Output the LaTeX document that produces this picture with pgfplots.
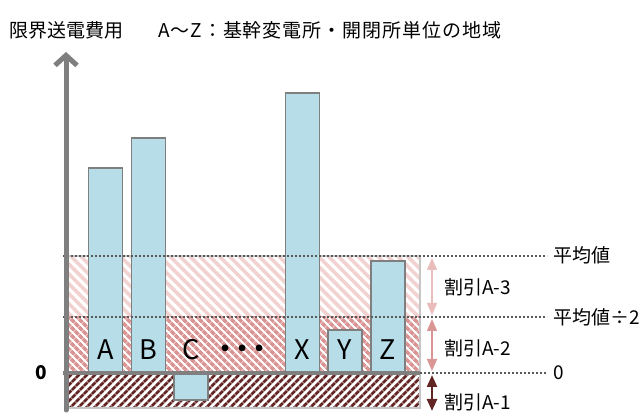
\documentclass[border=0pt]{standalone}
\usepackage{pgfplots}
\pgfplotsset{compat=1.18}
\usepackage{fontspec}
\setmainfont{Noto Sans CJK JP}
\usetikzlibrary{patterns.meta,arrows.meta}

\definecolor{barfill}{HTML}{B7DEE8}
\definecolor{bargray}{HTML}{7F7F7F}
\definecolor{pinkL}{HTML}{F2D2D1}
\definecolor{pinkM}{HTML}{D99694}
\definecolor{maroon}{HTML}{632523}
\definecolor{arrL}{HTML}{E8BDBC}
\definecolor{dotgray}{HTML}{595959}

\begin{document}
\begin{tikzpicture}
\begin{axis}[
    width=641bp, height=413bp, scale only axis,
    xmin=0, xmax=641, ymin=-40, ymax=373,
    hide axis, clip=false,
    font=\fontsize{19bp}{22bp}\selectfont,
]
\path (axis cs:0,-40) rectangle (axis cs:641,373);

% hatched bands: 0 -- avg/2 -- avg, and below 0
\addplot[draw=none, pattern={Lines[angle=-45,distance=7bp,line width=3.6bp]}, pattern color=pinkL]
    coordinates {(65,56) (420,56) (420,117) (65,117)} -- cycle;
\addplot[draw=none, pattern={Lines[angle=-45,distance=6bp,line width=4bp]}, pattern color=pinkM]
    coordinates {(65,0) (420,0) (420,56) (65,56)} -- cycle;
\addplot[draw=none, pattern={Lines[angle=45,distance=6bp,line width=3.2bp]}, pattern color=maroon]
    coordinates {(65,-35) (420,-35) (420,0) (65,0)} -- cycle;
\addplot[draw=gray!45, line width=1.2bp]
    coordinates {(65,-35) (420,-35) (420,117) (65,117)} -- cycle;

% regions A, B, C, ..., X, Y, Z
\addplot[ybar, bar width=34, bar shift=0pt, fill=barfill, draw=bargray, line width=1.5bp]
    coordinates {(105.5,205) (148.5,235) (191,-27) (302.5,280) (345,43) (388,112)};

% reference levels
\addplot[dotgray, line width=2bp, dash pattern=on 2bp off 2bp] coordinates {(63,117) (547,117)};
\addplot[dotgray, line width=2bp, dash pattern=on 2bp off 2bp] coordinates {(63,56) (547,56)};
\addplot[dotgray, line width=2bp, dash pattern=on 2bp off 2bp] coordinates {(420,0) (547,0)};
\addplot[bargray, line width=4bp] coordinates {(63,0) (420,0)};

\draw[bargray, line width=5bp, line cap=round, -{Straight Barb[length=10bp,width=22bp,line width=5bp]}]
    (axis cs:66,-37) -- (axis cs:66,321);

\draw[arrL, line width=1.6bp, {Triangle[width=10bp,length=12bp]}-{Triangle[width=10bp,length=12bp]}]
    (axis cs:432,115) -- (axis cs:432,58);
\draw[pinkM, line width=1.6bp, {Triangle[width=10bp,length=12bp]}-{Triangle[width=10bp,length=12bp]}]
    (axis cs:432,54) -- (axis cs:432,2);
\draw[maroon, line width=2.4bp, {Triangle[width=10bp,length=12bp]}-{Triangle[width=10bp,length=12bp]}]
    (axis cs:432,-2) -- (axis cs:432,-38);

% labels
\node[anchor=west, inner sep=0pt] at (axis cs:9,343) {限界送電費用};
\node[anchor=west, inner sep=0pt] at (axis cs:158,343) {\addfontfeature{LetterSpace=5}A～Z：基幹変電所・開閉所単位の地域};

\node[anchor=west, inner sep=0pt] at (axis cs:553,118) {平均値};
\node[anchor=west, inner sep=0pt] at (axis cs:553,56) {平均値÷2};
\node[anchor=west, inner sep=0pt] at (axis cs:553,0) {0};
\node[anchor=west, inner sep=0pt] at (axis cs:444,86) {割引A-3};
\node[anchor=west, inner sep=0pt] at (axis cs:444,25) {割引A-2};
\node[anchor=west, inner sep=0pt] at (axis cs:444,-29) {割引A-1};
\node[inner sep=0pt, font=\fontsize{19bp}{22bp}\selectfont\bfseries] at (axis cs:41,0) {0};

\begin{scope}[every node/.style={inner sep=0pt, font=\fontsize{27bp}{30bp}\selectfont}]
\node at (axis cs:105.5,23) {A};
\node at (axis cs:148.5,23) {B};
\node at (axis cs:191,23) {C};
\node[font=\fontsize{24bp}{26bp}\selectfont\bfseries] at (axis cs:242,22) {・\hspace{-7bp}・\hspace{-7bp}・};
\node at (axis cs:302.5,23) {X};
\node at (axis cs:345,23) {Y};
\node at (axis cs:388,23) {Z};
\end{scope}
\end{axis}
\end{tikzpicture}
\end{document}
